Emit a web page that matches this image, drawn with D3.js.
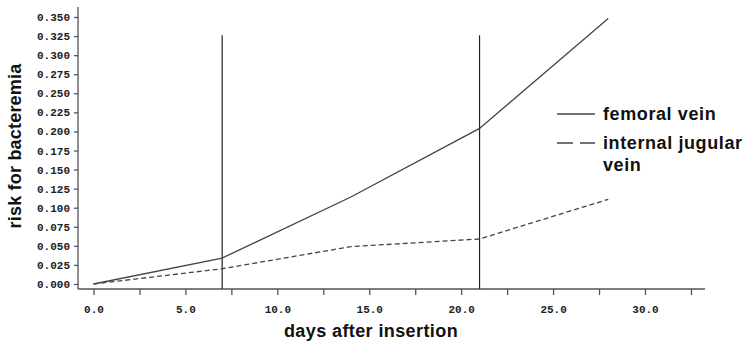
<!DOCTYPE html>
<html>
<head>
<meta charset="utf-8">
<script src="https://cdn.jsdelivr.net/npm/d3@7"></script>
<style>
	body { margin: 0; background: #fff; }
	.tick text { font-family: "Liberation Mono", "DejaVu Sans Mono", monospace; font-weight: bold; font-size: 11px; fill: #222; }
</style>
</head>
<body>
<script>
// data
const days = [0, 7, 14, 21, 28];
const femoral = [0, 0.034, 0.114, 0.204, 0.348];
const jugular = [0, 0.020, 0.049, 0.059, 0.111];
const markerDays = [7, 21];
const xTickValues = [0, 2.5, 5, 7.5, 10, 12.5, 15, 17.5, 20, 22.5, 25, 27.5, 30, 32.5];
const yTickValues = [0, 0.025, 0.05, 0.075, 0.1, 0.125, 0.15, 0.175, 0.2, 0.225, 0.25, 0.275, 0.3, 0.325, 0.35];
const seriesNames = ["femoral vein", "internal jugular"];

const width = 746;
const height = 343;

const svg = d3.select("body").append("svg")
	.attr("width", width)
	.attr("height", height)
	.attr("viewBox", [0, 0, width, height]);

// scales
const x = d3.scaleLinear([0, 30], [93.5, 645]);
const y = d3.scaleLinear([0, 0.35], [284, 17]);
const axisY = 289;   // x axis sits a bit below zero
const axisX = 78;

const axisColor = "#555";

// axis lines
svg.append("line")
	.attr("x1", axisX).attr("x2", axisX)
	.attr("y1", 7).attr("y2", axisY)
	.attr("stroke", axisColor).attr("stroke-width", 1.3);
svg.append("line")
	.attr("x1", axisX).attr("x2", 705)
	.attr("y1", axisY).attr("y2", axisY)
	.attr("stroke", axisColor).attr("stroke-width", 1.3);

// x axis ticks
svg.append("g")
	.attr("transform", `translate(0,${axisY})`)
	.call(d3.axisBottom(x)
		.tickValues(xTickValues)
		.tickSize(6)
		.tickPadding(10)
		.tickFormat(d => d % 5 === 0 ? d3.format(".1f")(d) : ""))
	.call(g => g.select(".domain").remove())
	.call(g => g.selectAll(".tick line").attr("stroke", axisColor).attr("stroke-width", 1.3));

// y axis ticks
svg.append("g")
	.attr("transform", `translate(${axisX},0)`)
	.call(d3.axisLeft(y)
		.tickValues(yTickValues)
		.tickSize(4)
		.tickPadding(4)
		.tickFormat(d3.format(".3f")))
	.call(g => g.select(".domain").remove())
	.call(g => g.selectAll(".tick line").attr("stroke", axisColor).attr("stroke-width", 1.3));

// vertical reference lines
svg.append("g")
	.selectAll("line")
	.data(markerDays)
	.join("line")
	.attr("x1", d => x(d)).attr("x2", d => x(d))
	.attr("y1", y(0.326)).attr("y2", axisY)
	.attr("stroke", "#222")
	.attr("stroke-width", 1.2);

// series lines
const line = d3.line()
	.x((d, i) => x(days[i]))
	.y(d => y(d));

svg.append("path")
	.attr("d", line(femoral))
	.attr("fill", "none")
	.attr("stroke", "#444")
	.attr("stroke-width", 1.3);

svg.append("path")
	.attr("d", line(jugular))
	.attr("fill", "none")
	.attr("stroke", "#444")
	.attr("stroke-width", 1.3)
	.attr("stroke-dasharray", "5,3");

// axis titles
svg.append("text")
	.attr("x", 371)
	.attr("y", 337)
	.attr("text-anchor", "middle")
	.attr("font-family", "Liberation Sans, Arial, sans-serif")
	.attr("font-weight", "bold")
	.attr("font-size", 18)
	.attr("letter-spacing", 0.4)
	.attr("fill", "#111")
	.text("days after insertion");

svg.append("text")
	.attr("transform", "translate(21,146) rotate(-90)")
	.attr("text-anchor", "middle")
	.attr("font-family", "Liberation Sans, Arial, sans-serif")
	.attr("font-weight", "bold")
	.attr("font-size", 18)
	.attr("letter-spacing", 0.2)
	.attr("fill", "#111")
	.text("risk for bacteremia");

// legend
const legend = svg.append("g")
	.attr("font-family", "Liberation Sans, Arial, sans-serif")
	.attr("font-weight", "bold")
	.attr("font-size", 18)
	.attr("letter-spacing", 0.6)
	.attr("fill", "#111");

legend.append("line")
	.attr("x1", 557).attr("x2", 595)
	.attr("y1", 114).attr("y2", 114)
	.attr("stroke", "#444").attr("stroke-width", 1.3);
legend.append("text").attr("x", 603).attr("y", 120).text(seriesNames[0]);

legend.append("line")
	.attr("x1", 557).attr("x2", 595)
	.attr("y1", 143).attr("y2", 143)
	.attr("stroke", "#444").attr("stroke-width", 1.3)
	.attr("stroke-dasharray", "16,7");
legend.append("text").attr("x", 603).attr("y", 148.5).text(seriesNames[1]);
legend.append("text").attr("x", 603).attr("y", 171).text("vein");
</script>
</body>
</html>
